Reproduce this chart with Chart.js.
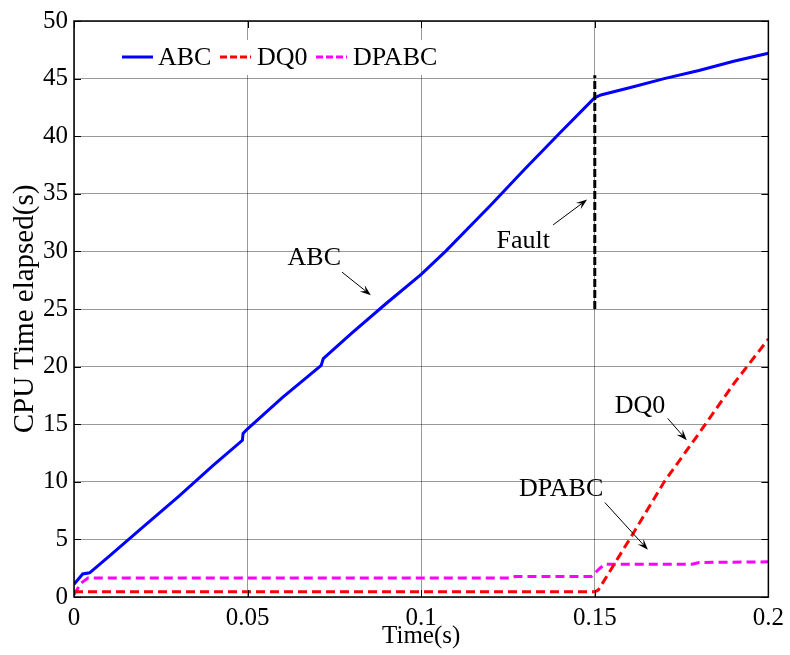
<!DOCTYPE html>
<html lang="en">
<head>
  <meta charset="UTF-8">
  <title>CPU Time elapsed</title>
  <script src="https://cdn.jsdelivr.net/npm/chart.js"></script>
  <style>
    html, body { margin: 0; padding: 0; background: #fff; }
    #wrap { width: 790px; height: 655px; }
  </style>
</head>
<body>
  <div id="wrap"><canvas id="cpuChart" width="790" height="655"></canvas></div>
  <script>
    // series
    const abcTime = [0, 0.0025, 0.0045, 0.01, 0.02, 0.03, 0.04, 0.0485, 0.0487, 0.05, 0.06, 0.0712, 0.0718,
      0.08, 0.09, 0.1, 0.107, 0.12, 0.13, 0.14, 0.15, 0.152, 0.16, 0.17, 0.18, 0.19, 0.2];
    const abcCpu = [1.1, 2.0, 2.1, 3.5, 6.1, 8.7, 11.4, 13.6, 14.2, 14.6, 17.3, 20.1, 20.7,
      22.9, 25.5, 28.0, 30.0, 34.0, 37.2, 40.3, 43.35, 43.6, 44.2, 45.0, 45.7, 46.5, 47.2];

    const dq0Time = [0, 0.15, 0.151, 0.16, 0.17, 0.18, 0.19, 0.2];
    const dq0Cpu = [0.45, 0.45, 0.6, 5.0, 10.0, 14.2, 18.5, 22.4];

    const dpabcTime = [0, 0.002, 0.004, 0.126, 0.127, 0.149, 0.1515, 0.153, 0.178, 0.18, 0.2];
    const dpabcCpu = [0.2, 1.2, 1.65, 1.65, 1.78, 1.78, 2.5, 2.85, 2.85, 3.0, 3.05];

    const xTickValues = [0, 0.05, 0.1, 0.15, 0.2];
    const xTickLabels = ['0', '0.05', '0.1', '0.15', '0.2'];
    const yTickValues = [0, 5, 10, 15, 20, 25, 30, 35, 40, 45, 50];

    const faultTime = 0.15;
    const faultRange = [25, 45.3];

    // text labels with arrows, in data units: [text, textX, textY, fromX, fromY, toX, toY]
    const notes = [
      ['ABC', 0.0692, 28.8, 0.0772, 28.2, 0.0855, 26.2],
      ['Fault', 0.1294, 30.3, 0.138, 32.3, 0.1478, 34.5],
      ['DQ0', 0.163, 16.0, 0.171, 15.5, 0.1765, 13.6],
      ['DPABC', 0.1403, 8.8, 0.1529, 8.2, 0.1653, 4.1]
    ];

    const FONT = '"Liberation Serif", "Times New Roman", serif';
    const toPts = (xs, ys) => xs.map((x, i) => ({ x: x, y: ys[i] }));

    const series = [
      { label: 'ABC', data: toPts(abcTime, abcCpu), color: '#0000ff', dash: [] },
      { label: 'DQ0', data: toPts(dq0Time, dq0Cpu), color: '#ff0000', dash: [9, 5] },
      { label: 'DPABC', data: toPts(dpabcTime, dpabcCpu), color: '#ff00ff', dash: [9, 5] }
    ];

    function arrow(ctx, x1, y1, x2, y2) {
      const a = Math.atan2(y2 - y1, x2 - x1);
      const len = 11, w = 4;
      ctx.beginPath();
      ctx.moveTo(x1, y1);
      ctx.lineTo(x2 - Math.cos(a) * len * 0.6, y2 - Math.sin(a) * len * 0.6);
      ctx.stroke();
      ctx.beginPath();
      ctx.moveTo(x2, y2);
      ctx.lineTo(x2 - Math.cos(a) * len + Math.sin(a) * w, y2 - Math.sin(a) * len - Math.cos(a) * w);
      ctx.lineTo(x2 - Math.cos(a) * len * 0.6, y2 - Math.sin(a) * len * 0.6);
      ctx.lineTo(x2 - Math.cos(a) * len - Math.sin(a) * w, y2 - Math.sin(a) * len + Math.cos(a) * w);
      ctx.closePath();
      ctx.fill();
    }

    const overlay = {
      id: 'overlay',
      afterDatasetsDraw(chart) {
        const ctx = chart.ctx;
        const xs = chart.scales.x, ys = chart.scales.y;
        const area = chart.chartArea;
        ctx.save();

        // fault marker
        ctx.strokeStyle = '#000';
        ctx.lineWidth = 3;
        ctx.setLineDash([8, 3]);
        ctx.beginPath();
        ctx.moveTo(xs.getPixelForValue(faultTime), ys.getPixelForValue(faultRange[0]));
        ctx.lineTo(xs.getPixelForValue(faultTime), ys.getPixelForValue(faultRange[1]));
        ctx.stroke();
        ctx.setLineDash([]);

        // annotations
        ctx.fillStyle = '#000';
        ctx.lineWidth = 1;
        ctx.font = '26px ' + FONT;
        ctx.textAlign = 'center';
        ctx.textBaseline = 'alphabetic';
        notes.forEach(n => {
          ctx.fillText(n[0], xs.getPixelForValue(n[1]), ys.getPixelForValue(n[2]));
          arrow(ctx, xs.getPixelForValue(n[3]), ys.getPixelForValue(n[4]),
            xs.getPixelForValue(n[5]), ys.getPixelForValue(n[6]));
        });

        // box and inward ticks
        ctx.strokeStyle = '#000';
        ctx.lineWidth = 1.5;
        ctx.strokeRect(area.left, area.top, area.right - area.left, area.bottom - area.top);
        ctx.lineWidth = 1;
        const tl = 7;
        ctx.beginPath();
        xTickValues.forEach(v => {
          const px = Math.round(xs.getPixelForValue(v)) + 0.5;
          ctx.moveTo(px, area.bottom); ctx.lineTo(px, area.bottom - tl);
          ctx.moveTo(px, area.top); ctx.lineTo(px, area.top + tl);
        });
        yTickValues.forEach(v => {
          const py = Math.round(ys.getPixelForValue(v)) + 0.5;
          ctx.moveTo(area.left, py); ctx.lineTo(area.left + tl, py);
          ctx.moveTo(area.right, py); ctx.lineTo(area.right - tl, py);
        });
        ctx.stroke();

        // legend in the top-left corner
        ctx.fillStyle = '#fff';
        ctx.fillRect(116, 40, 332, 35);
        ctx.textAlign = 'left';
        ctx.textBaseline = 'middle';
        const items = [[122, 158], [220, 257], [316, 353]];
        series.forEach((s, i) => {
          const [lx, tx] = items[i];
          ctx.strokeStyle = s.color;
          ctx.lineWidth = 3;
          ctx.setLineDash(s.dash.length ? [7, 3] : []);
          ctx.beginPath();
          ctx.moveTo(lx, 57); ctx.lineTo(lx + 31, 57);
          ctx.stroke();
          ctx.setLineDash([]);
          ctx.fillStyle = '#000';
          ctx.fillText(s.label, tx, 58);
        });
        ctx.restore();
      }
    };

    const ctx = document.getElementById('cpuChart').getContext('2d');
    new Chart(ctx, {
      type: 'line',
      data: {
        datasets: series.map(s => ({
          label: s.label,
          data: s.data,
          borderColor: s.color,
          backgroundColor: s.color,
          borderWidth: 3,
          borderDash: s.dash,
          pointRadius: 0,
          tension: 0,
          fill: false
        }))
      },
      options: {
        responsive: false,
        animation: false,
        layout: { padding: { top: 18, right: 19, left: 0, bottom: 0 } },
        plugins: { legend: { display: false }, tooltip: { enabled: false } },
        scales: {
          x: {
            type: 'linear',
            min: 0,
            max: 0.2,
            afterBuildTicks: axis => { axis.ticks = xTickValues.map(v => ({ value: v })); },
            afterFit: axis => { axis.height = 58; },
            ticks: {
              color: '#000',
              padding: 6,
              maxRotation: 0,
              font: { family: FONT, size: 25 },
              callback: (v) => xTickLabels[xTickValues.indexOf(v)]
            },
            grid: { color: 'rgba(0,0,0,0.4)', lineWidth: 1, drawTicks: false },
            border: { display: false },
            title: { display: true, text: 'Time(s)', color: '#000', padding: { top: 0, bottom: 4 },
              font: { family: FONT, size: 25 } }
          },
          y: {
            min: 0,
            max: 50,
            afterBuildTicks: axis => { axis.ticks = yTickValues.map(v => ({ value: v })); },
            afterFit: axis => { axis.width = 74; },
            ticks: {
              color: '#000',
              padding: 6,
              font: { family: FONT, size: 25 }
            },
            grid: { color: 'rgba(0,0,0,0.4)', lineWidth: 1, drawTicks: false },
            border: { display: false },
            title: { display: true, text: 'CPU Time elapsed(s)', color: '#000', padding: { top: 8, bottom: 0 },
              font: { family: FONT, size: 29 } }
          }
        }
      },
      plugins: [overlay]
    });
  </script>
</body>
</html>
